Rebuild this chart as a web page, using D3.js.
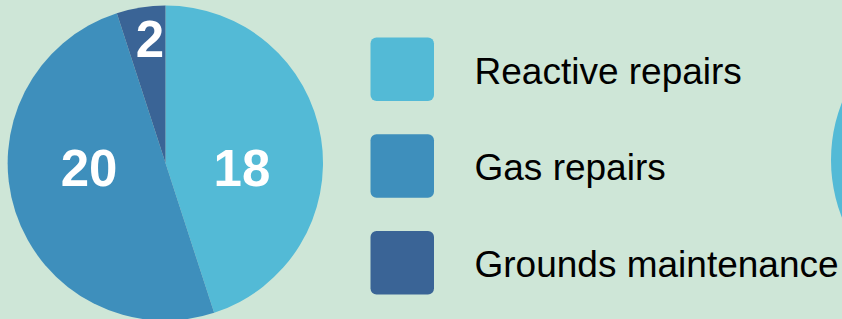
<!DOCTYPE html>
<html>
<head>
<meta charset="utf-8">
<script src="https://cdn.jsdelivr.net/npm/d3@7"></script>
<style>
	html, body { margin: 0; padding: 0; background: #cee6d7; }
	svg { display: block; font-family: "Liberation Sans", Arial, sans-serif; }
	.slice-label { fill: #fff; font-weight: bold; font-size: 51px; text-anchor: middle; }
	.legend-label { fill: #000; font-size: 37px; }
</style>
</head>
<body>
<svg id="chart" width="842" height="319"></svg>
<script>
// data
const categories = ["Reactive repairs", "Gas repairs", "Grounds maintenance"];
const values = [18, 20, 2];
// second pie, only its left edge shows at the right border
const valuesNext = [36, 2, 1];
const colors = ["#53bad6", "#3e8fbc", "#3a6496"];

const svg = d3.select("#chart"),
	width = +svg.attr("width"),
	height = +svg.attr("height");

svg.append("rect").attr("width", width).attr("height", height).attr("fill", "#cee6d7");

const radius = 157.5;
const color = d3.scaleOrdinal().domain(categories).range(colors);

const pie = d3.pie().sort(null).value((d) => d.value);
const arc = d3.arc().innerRadius(0).outerRadius(radius);
const labelArc = d3.arc().innerRadius(radius * 0.485).outerRadius(radius * 0.485);
const smallArc = d3.arc().innerRadius(radius * 0.83).outerRadius(radius * 0.83);

function drawPie(vals, cx, cy, withLabels) {
	const data = categories.map((c, i) => ({ name: c, value: vals[i] }));
	const total = d3.sum(vals);
	const g = svg.append("g").attr("transform", `translate(${cx},${cy})`);

	g.selectAll("path")
		.data(pie(data))
		.enter()
		.append("path")
		.attr("d", arc)
		.attr("fill", (d) => color(d.data.name));

	if (!withLabels) return;

	g.selectAll("text")
		.data(pie(data))
		.enter()
		.append("text")
		.attr("class", "slice-label")
		.attr("transform", (d) => {
			const share = d.data.value / total;
			if (share < 0.1) {
				const [x, y] = smallArc.centroid(d);
				return `translate(${x + 5},${y})`;
			}
			// big slices: label sits level with the pie centre
			const [x] = labelArc.centroid(d);
			return `translate(${Math.sign(x) * radius * 0.485},0)`;
		})
		.attr("dy", "0.45em")
		.text((d) => d.data.value);
}

drawPie(values, 165.5, 163, true);
drawPie(valuesNext, 831 + radius, 160, false);

// legend
const legendY = d3.scalePoint().domain(categories).range([37.5, 231]);

const legend = svg
	.append("g")
	.selectAll("g")
	.data(categories)
	.enter()
	.append("g")
	.attr("transform", (d) => `translate(370.5,${legendY(d)})`);

legend
	.append("rect")
	.attr("width", 63.5)
	.attr("height", 63.5)
	.attr("rx", 6)
	.attr("ry", 6)
	.attr("fill", (d) => color(d));

legend
	.append("text")
	.attr("class", "legend-label")
	.attr("x", 104)
	.attr("y", 46)
	.text((d) => d);
</script>
</body>
</html>
